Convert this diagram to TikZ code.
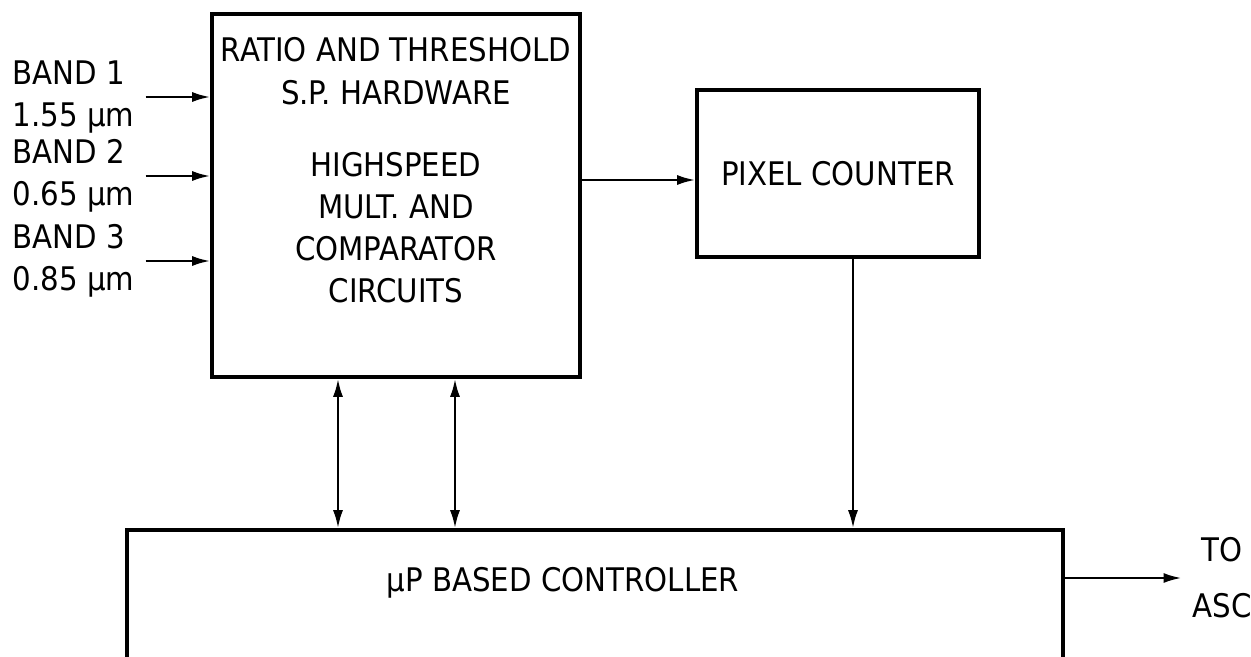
\documentclass[tikz,border=0pt]{standalone}
\usepackage{fontspec}
\setmainfont{DejaVu Sans Condensed}
\usepackage{tikz}
\usetikzlibrary{arrows.meta}

\tikzset{
    blk/.style={draw, line width=2pt, align=center},
    lbl/.style={align=left, inner sep=2pt},
    conn/.style={line width=1.4pt}
}

\begin{document}
\begin{tikzpicture}[>={Latex[length=3.6mm,width=2mm]}, font=\fontsize{18.5}{24}\selectfont]
    \useasboundingbox (0,0) rectangle (25.02,-13.14);
    % blocks
    \node[blk, minimum width=7.36cm, minimum height=7.26cm] (sp) at (7.92,-3.91) {};
    \node[align=center] (sptxt) at ([yshift=0.5cm]sp.center)
        {RATIO AND THRESHOLD\\S.P. HARDWARE\\[17pt]HIGHSPEED\\MULT. AND\\COMPARATOR\\CIRCUITS};
    \node[blk, minimum width=5.64cm, minimum height=3.34cm] (pix) at (16.76,-3.47) {PIXEL COUNTER};
    \node[blk, minimum width=18.72cm, minimum height=3.4cm] (ctrl) at (11.9,-12.3) {};
    \node (ctrltxt) at ([xshift=-0.64cm,yshift=-1.1cm]ctrl.north) {µP BASED CONTROLLER};

    % inputs
    \node[lbl, anchor=west] (band1) at (0.18,-1.94) {BAND 1\\1.55 µm};
    \node[lbl, anchor=west] (band2) at (0.18,-3.52) {BAND 2\\0.65 µm};
    \node[lbl, anchor=west] (band3) at (0.18,-5.22) {BAND 3\\0.85 µm};
    \node[align=center, inner sep=6pt] (asc) at (24.44,-11.56) {TO\\[8pt]ASC};

    % connectors
    \draw[conn,->] ([xshift=0.15cm]band1.east) -- (band1.east -| sp.west);
    \draw[conn,->] ([xshift=0.15cm]band2.east) -- (band2.east -| sp.west);
    \draw[conn,->] ([xshift=0.15cm]band3.east) -- (band3.east -| sp.west);
    \draw[conn,->] ([yshift=-0.13cm]pix.west -| sp.east) -- ([yshift=-0.13cm]pix.west);
    \draw[conn,<->] ([xshift=-1.16cm]sp.south) -- ([xshift=-1.16cm]sp.south |- ctrl.north);
    \draw[conn,<->] ([xshift=1.18cm]sp.south) -- ([xshift=1.18cm]sp.south |- ctrl.north);
    \draw[conn,->] ([xshift=0.3cm]pix.south) -- ([xshift=0.3cm]pix.south |- ctrl.north);
    \draw[conn,->] (asc.west -| ctrl.east) -- (asc.west);
\end{tikzpicture}
\end{document}
